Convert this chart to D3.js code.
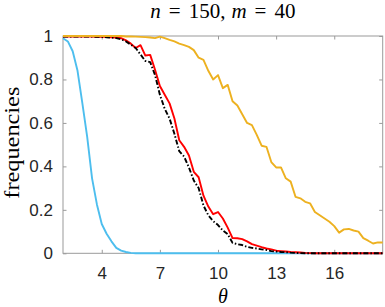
<!DOCTYPE html>
<html>
<head>
<meta charset="utf-8">
<script src="https://cdn.jsdelivr.net/npm/d3@7"></script>
<style>
  body { margin: 0; background: #fff; }
  svg { display: block; }
</style>
</head>
<body>
<script>
// theta grid (step 0.25)
const theta = [2, 2.25, 2.5, 2.75, 3, 3.25, 3.5, 3.75, 4, 4.25, 4.5, 4.75, 5, 5.25, 5.5, 5.75,
  6, 6.25, 6.5, 6.75, 7, 7.25, 7.5, 7.75, 8, 8.25, 8.5, 8.75, 9, 9.25, 9.5, 9.75,
  10, 10.25, 10.5, 10.75, 11, 11.25, 11.5, 11.75, 12, 12.25, 12.5, 12.75, 13, 13.25, 13.5, 13.75,
  14, 14.25, 14.5, 14.75, 15, 15.25, 15.5, 15.75, 16, 16.25, 16.5, 16.75, 17, 17.25, 17.5, 17.75,
  18, 18.25, 18.5];

const blueVals = [0.99, 0.975, 0.93, 0.84, 0.69, 0.535, 0.345, 0.225, 0.135, 0.09, 0.055, 0.025, 0.012, 0.006, 0.002, 0,
  0, 0, 0, 0, 0, 0, 0, 0, 0, 0, 0, 0, 0, 0, 0, 0,
  0, 0, 0, 0, 0, 0, 0, 0, 0, 0, 0, 0, 0, 0, 0, 0,
  0, 0, 0, 0, 0, 0, 0, 0, 0, 0, 0, 0, 0, 0, 0, 0,
  0, 0, 0];

const redVals = [0.997, 0.997, 0.997, 0.997, 0.997, 0.997, 0.997, 0.996, 0.997, 0.995, 0.994, 0.993, 0.99, 0.98, 0.965, 0.945,
  0.958, 0.91, 0.913, 0.845, 0.77, 0.73, 0.69, 0.62, 0.52, 0.49, 0.45, 0.375, 0.35, 0.265, 0.215, 0.18,
  0.19, 0.16, 0.118, 0.07, 0.069, 0.065, 0.055, 0.042, 0.035, 0.028, 0.022, 0.018, 0.012, 0.01, 0.008, 0.006,
  0.005, 0.004, 0.002, 0.001, 0, 0, 0, 0, 0, 0, 0, 0, 0, 0, 0, 0,
  0, 0, 0];

const blackVals = [0.997, 0.997, 0.997, 0.997, 0.997, 0.997, 0.997, 0.996, 0.996, 0.994, 0.993, 0.99, 0.985, 0.975, 0.96, 0.945,
  0.915, 0.885, 0.88, 0.82, 0.73, 0.665, 0.62, 0.55, 0.47, 0.445, 0.395, 0.335, 0.3, 0.22, 0.175, 0.148,
  0.13, 0.105, 0.088, 0.048, 0.042, 0.038, 0.03, 0.025, 0.022, 0.018, 0.015, 0.01, 0.008, 0.006, 0.005, 0.003,
  0.002, 0.001, 0, 0, 0, 0, 0, 0, 0, 0, 0, 0, 0, 0, 0, 0,
  0, 0, 0];

const orangeVals = [1, 1, 1, 1, 1, 1, 1, 1, 1, 1, 1, 1, 1, 0.998, 0.998, 0.997,
  0.996, 0.995, 0.993, 0.99, 0.997, 0.99, 0.982, 0.975, 0.965, 0.958, 0.95, 0.935, 0.9, 0.89, 0.84, 0.8,
  0.82, 0.76, 0.775, 0.7, 0.68, 0.64, 0.6, 0.59, 0.545, 0.495, 0.49, 0.42, 0.395, 0.395, 0.345, 0.33,
  0.26, 0.253, 0.237, 0.23, 0.19, 0.175, 0.16, 0.145, 0.125, 0.095, 0.11, 0.112, 0.105, 0.1, 0.07, 0.058,
  0.045, 0.05, 0.05];

const xTicks = [4, 7, 10, 13, 16];
const yTicks = [0, 0.2, 0.4, 0.6, 0.8, 1];

const W = 385, H = 307;
const margin = { top: 36, right: 2.3, bottom: 53.7, left: 63 };
const width = W - margin.left - margin.right;
const height = H - margin.top - margin.bottom;

const svg = d3.select('body').append('svg')
  .attr('width', W)
  .attr('height', H);

const g = svg.append('g')
  .attr('transform', `translate(${margin.left},${margin.top})`);

const x = d3.scaleLinear().domain([2, 18.5]).range([0, width]);
const y = d3.scaleLinear().domain([0, 1]).range([height, 0]);

const axisColor = '#9a9a9a';
const textColor = '#262626';
const tickFont = '"Liberation Sans", Arial, sans-serif';

// box + inward ticks on all four sides
const styleAxis = (sel) => {
  sel.select('.domain').remove();
  sel.selectAll('.tick line').attr('stroke', axisColor).attr('stroke-width', 1);
  sel.selectAll('.tick text')
    .attr('fill', textColor)
    .style('font-family', tickFont)
    .style('font-size', '17px');
};

g.append('g')
  .attr('transform', `translate(0,${height})`)
  .call(d3.axisBottom(x).tickValues(xTicks).tickSize(-3.5).tickPadding(14).tickFormat(d3.format('d')))
  .call(styleAxis);

g.append('g')
  .call(d3.axisTop(x).tickValues(xTicks).tickSize(-3.5).tickFormat(''))
  .call(styleAxis);

g.append('g')
  .call(d3.axisLeft(y).tickValues(yTicks).tickSize(-3.5).tickPadding(10).tickFormat(d3.format('~g')))
  .call(styleAxis);

g.append('g')
  .attr('transform', `translate(${width},0)`)
  .call(d3.axisRight(y).tickValues(yTicks).tickSize(-3.5).tickFormat(''))
  .call(styleAxis);

g.append('rect')
  .attr('width', width)
  .attr('height', height)
  .attr('fill', 'none')
  .attr('stroke', axisColor)
  .attr('stroke-width', 1);

// series
const series = [
  { vals: blueVals, color: '#4DBEEE', dash: null },
  { vals: redVals, color: '#FF0000', dash: null },
  { vals: blackVals, color: '#000000', dash: '5,2,1.5,2' },
  { vals: orangeVals, color: '#EDB120', dash: null }
];

const line = d3.line()
  .x((d, i) => x(theta[i]))
  .y(d => y(d));

series.forEach(s => {
  g.append('path')
    .datum(s.vals)
    .attr('d', line)
    .attr('fill', 'none')
    .attr('stroke', s.color)
    .attr('stroke-width', 1.9)
    .attr('stroke-linejoin', 'round')
    .attr('stroke-dasharray', s.dash);
});

// labels
const serif = '"Liberation Serif", "DejaVu Serif", serif';

const title = svg.append('text')
  .attr('x', margin.left + width / 2)
  .attr('y', 18)
  .attr('text-anchor', 'middle')
  .style('font-family', serif)
  .style('font-size', '21px')
  .attr('fill', '#000');
title.append('tspan').style('font-style', 'italic').text('n');
title.append('tspan').attr('dx', 8).text('=');
title.append('tspan').attr('dx', 8).text('150,');
title.append('tspan').attr('dx', 6).style('font-style', 'italic').text('m');
title.append('tspan').attr('dx', 8).text('=');
title.append('tspan').attr('dx', 8).text('40');

svg.append('text')
  .attr('x', margin.left + width / 2)
  .attr('y', 303)
  .attr('text-anchor', 'middle')
  .style('font-family', serif)
  .style('font-style', 'italic')
  .style('font-size', '20px')
  .text('θ');

svg.append('text')
  .attr('transform', `translate(19,${margin.top + height / 2 - 2}) rotate(-90)`)
  .attr('text-anchor', 'middle')
  .attr('textLength', 112)
  .attr('lengthAdjust', 'spacingAndGlyphs')
  .style('font-family', serif)
  .style('font-size', '21px')
  .text('frequencies');
</script>
</body>
</html>
